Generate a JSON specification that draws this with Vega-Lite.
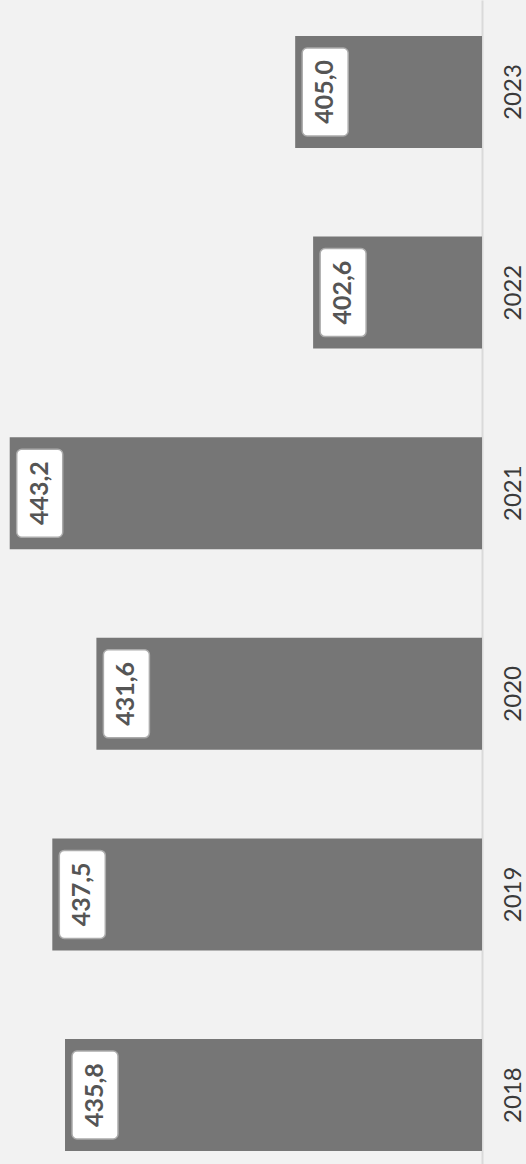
{
  "$schema": "https://vega.github.io/schema/vega-lite/v6.json",
  "width": 482,
  "height": 1164,
  "autosize": {"type": "none"},
  "padding": {"left": 0, "top": 0, "bottom": 0, "right": 44},
  "background": "#f2f2f2",
  "config": {"view": {"stroke": null}},
  "data": {"values": [
    {"year": "2018", "value": 435.8, "label": "435,8"},
    {"year": "2019", "value": 437.5, "label": "437,5"},
    {"year": "2020", "value": 431.6, "label": "431,6"},
    {"year": "2021", "value": 443.2, "label": "443,2"},
    {"year": "2022", "value": 402.6, "label": "402,6"},
    {"year": "2023", "value": 405.0, "label": "405,0"}
  ]},
  "encoding": {
    "y": {
      "field": "year", "type": "nominal", "sort": "descending",
      "scale": {"paddingInner": 0.442, "paddingOuter": 0.122, "align": 0.735, "round": false},
      "axis": {
        "title": null, "orient": "right", "labelAngle": 270, "labelAlign": "center", "labelBaseline": "middle",
        "labelPadding": 31, "ticks": false, "tickSize": 0, "domainColor": "#dadada", "domainWidth": 2,
        "labelFont": "Lato", "labelFontSize": 24, "labelColor": "#3a3a3a", "grid": false
      }
    },
    "x": {
      "field": "value", "type": "quantitative",
      "scale": {"domain": [380, 444.5], "reverse": true, "zero": false, "nice": false},
      "axis": null
    }
  },
  "layer": [
    {
      "mark": {"type": "bar", "color": "#767676"},
      "encoding": {"x2": {"datum": 380}}
    },
    {
      "mark": {"type": "bar", "fill": "#ffffff", "stroke": "#ababab", "strokeWidth": 1.5, "cornerRadius": 5, "height": 88, "xOffset": 7, "x2Offset": 53},
      "encoding": {"x2": {"field": "value"}}
    },
    {
      "mark": {"type": "text", "angle": 270, "align": "center", "baseline": "middle", "font": "Lato", "fontSize": 25, "fontWeight": "bold", "color": "#555555", "xOffset": 30},
      "encoding": {"text": {"field": "label"}}
    }
  ]
}
